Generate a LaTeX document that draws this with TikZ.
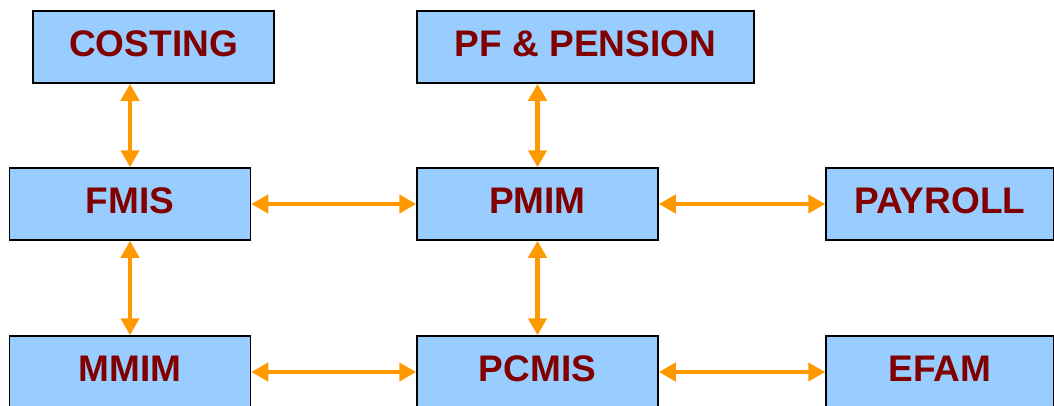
\documentclass[tikz,border=0pt]{standalone}
\usepackage{fontspec}
\setmainfont{Liberation Sans}
\usepackage{tikz}
\definecolor{boxblue}{HTML}{99CCFF}
\definecolor{txtred}{HTML}{800000}
\definecolor{linkorange}{HTML}{FF9900}
\usetikzlibrary{arrows.meta}
\begin{document}
\begin{tikzpicture}[x=1pt, y=-1pt]
    \tikzset{blk/.style={
      draw=black,
      line width=1.5pt,
      fill=boxblue,
      text=txtred,
      font=\fontsize{37}{40}\selectfont\bfseries,
      text height=27pt,
      text depth=9pt,
      minimum width=241pt,
      minimum height=72pt,
      inner sep=0pt,
      align=center}}
    \tikzset{link/.style={
      {Triangle[length=17pt,width=18pt]}-{Triangle[length=17pt,width=18pt]},
      draw=linkorange,
      line width=4.5pt}}
    \clip (0,0) rectangle (1054,405);
    \node[blk] at (153.5, 47) (cost) {COSTING};
    \node[blk, minimum width=337pt] at (585.5, 47) (pf) {PF \& PENSION};
    \node[blk] at (130, 204) (fmis) {FMIS};
    \node[blk] at (537.5, 204) (pmim) {PMIM};
    \node[blk, minimum width=228pt] at (940, 204) (pay) {PAYROLL};
    \node[blk] at (130, 372) (mmim) {MMIM};
    \node[blk] at (537.5, 372) (pcmis) {PCMIS};
    \node[blk, minimum width=228pt] at (940, 372) (efam) {EFAM};
    \draw[link] (cost.south -| fmis.north) -- (fmis.north);
    \draw[link] (pf.south -| pmim.north) -- (pmim.north);
    \draw[link] (fmis) -- (pmim);
    \draw[link] (pmim) -- (pay);
    \draw[link] (fmis) -- (mmim);
    \draw[link] (pmim) -- (pcmis);
    \draw[link] (mmim) -- (pcmis);
    \draw[link] (pcmis) -- (efam);
  \end{tikzpicture}
\end{document}
